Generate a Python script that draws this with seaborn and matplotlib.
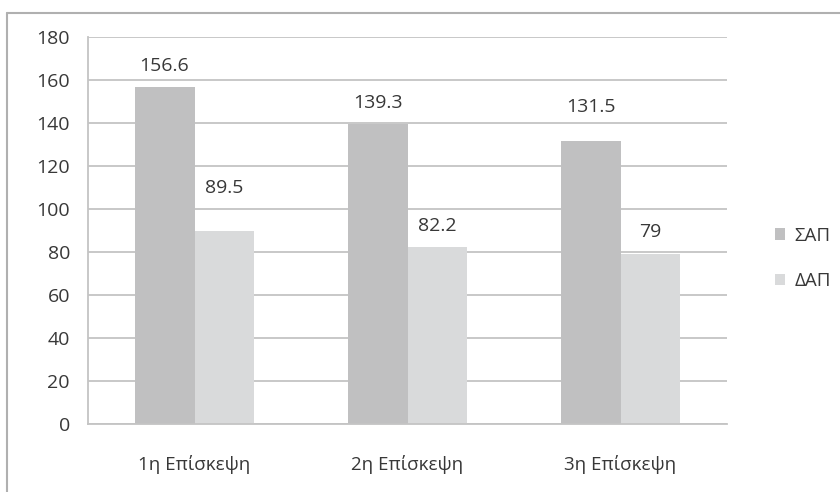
import matplotlib
matplotlib.use("Agg")
import matplotlib.pyplot as plt
from matplotlib.patches import Patch
from matplotlib.lines import Line2D
import seaborn as sns
import pandas as pd

visits = ["1η Επίσκεψη", "2η Επίσκεψη", "3η Επίσκεψη"]
series = ["ΣΑΠ", "ΔΑΠ"]
sap = [156.6, 139.3, 131.5]
dap = [89.5, 82.2, 79]
y_ticks = [0, 20, 40, 60, 80, 100, 120, 140, 160, 180]

colors = {"ΣΑΠ": "#c0c0c1", "ΔΑΠ": "#d9dadb"}
text_color = "#383838"
grid_color = "#c4c4c4"

sns.set_theme(style="white")
plt.rcParams["font.family"] = ["Open Sans", "DejaVu Sans"]

df = pd.DataFrame({
    "visit": visits * 2,
    "series": [series[0]] * 3 + [series[1]] * 3,
    "value": sap + dap,
})

fig = plt.figure(figsize=(8.4, 4.92), dpi=100)
ax = fig.add_axes([0.1048, 0.1382, 0.7607, 0.7872])

sns.barplot(data=df, x="visit", y="value", hue="series", order=visits,
            hue_order=series, palette=colors, width=0.563, gap=0,
            saturation=1, legend=False, ax=ax, errorbar=None, linewidth=0)

ax.set_ylim(0, 180)
ax.set_xlim(-0.5, 2.5)
ax.set_yticks(y_ticks)
ax.set_xlabel("")
ax.set_ylabel("")
ax.set_axisbelow(True)
ax.yaxis.grid(True, color=grid_color, linewidth=1.3)
ax.xaxis.grid(False)
for side in ("top", "right"):
    ax.spines[side].set_visible(False)
for side in ("left", "bottom"):
    ax.spines[side].set_color(grid_color)
    ax.spines[side].set_linewidth(1.3)

# category ticks sit on the boundaries between groups
ax.set_xticks([0, 1, 2])
ax.set_xticklabels(visits)
ax.tick_params(axis="x", length=0, pad=22, labelsize=13.5, labelcolor=text_color)
ax.set_xticks([-0.5, 0.5, 1.5, 2.5], minor=True)
ax.tick_params(axis="x", which="minor", length=6, width=1.3, color=grid_color,
               direction="out")
ax.tick_params(axis="y", length=7, width=1.3, color=grid_color, pad=6,
               labelsize=14, labelcolor=text_color)

# value labels above each bar, offsets in points per visit / series
offsets = [[15.3, 31.0], [15.1, 15.1], [24.5, 15.6]]
values = [sap, dap]
for i, container in enumerate(ax.containers):
    for j, rect in enumerate(container):
        val = values[i][j]
        ax.annotate(f"{val:g}", (rect.get_x() + rect.get_width() / 2, val),
                    xytext=(0, offsets[j][i]), textcoords="offset points",
                    ha="center", va="center", fontsize=14, color=text_color)

handles = [Patch(facecolor=colors[s], edgecolor="none") for s in series]
fig.legend(handles, series, loc="center left", bbox_to_anchor=(0.902, 0.475),
           frameon=False, fontsize=13.5, labelcolor=text_color,
           handlelength=0.55, handleheight=0.55, handletextpad=0.5,
           labelspacing=1.45)

# frame lines along the top and left of the figure
fig.add_artist(Line2D([0.0083, 1.0], [0.974, 0.974], transform=fig.transFigure,
                      color="#b0b0b0", linewidth=1.5))
fig.add_artist(Line2D([0.0083, 0.0083], [0.0, 0.974], transform=fig.transFigure,
                      color="#b0b0b0", linewidth=1.5))

fig.savefig("out.png", dpi=100, facecolor="white")
